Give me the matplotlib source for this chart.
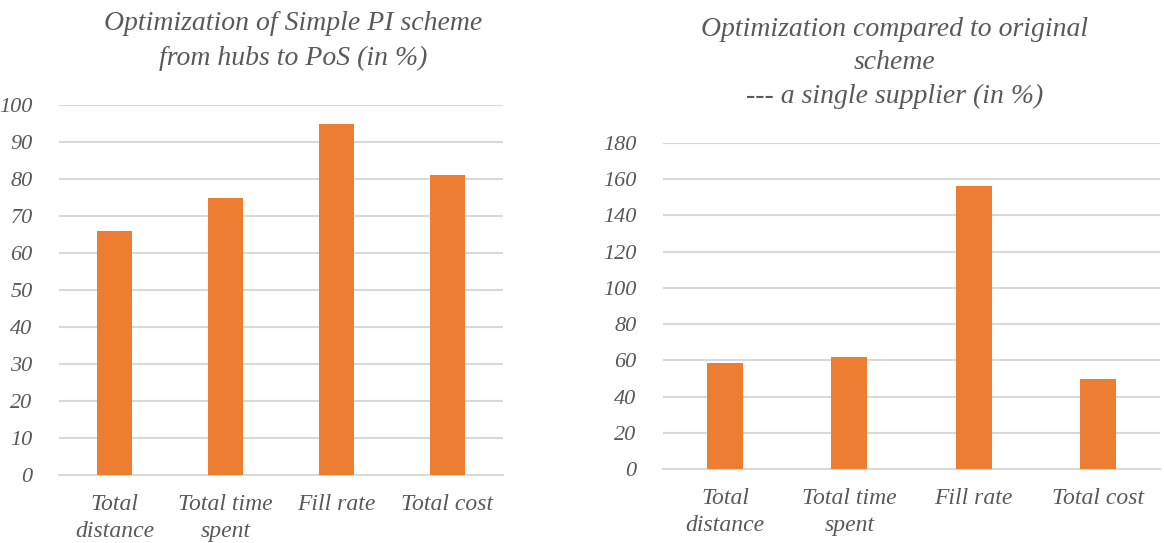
import matplotlib
matplotlib.use("Agg")
import matplotlib.pyplot as plt
import numpy as np

categories = ["Total\ndistance", "Total time\nspent", "Fill rate", "Total cost"]
left_values = [66, 75, 95, 81]
right_values = [58.3, 61.6, 156, 49.5]
left_title = "Optimization of Simple PI scheme\nfrom hubs to PoS (in %)"
right_title = "Optimization compared to original\nscheme\n--- a single supplier (in %)"
left_ticks = list(range(0, 101, 10))
right_ticks = list(range(0, 181, 20))

BAR = "#ED7D31"
GRID = "#D9D9D9"
TXT = "#595959"
FAM = ["Liberation Serif", "DejaVu Serif"]

plt.rcParams["font.family"] = FAM
plt.rcParams["font.style"] = "italic"

fig = plt.figure(figsize=(11.64, 5.43), dpi=100)

ax1 = fig.add_axes([59/1164, 68/543, 444/1164, 370/543])
ax2 = fig.add_axes([663/1164, 74/543, 497/1164, 326/543])

def style(ax, values, ticks, width):
    x = np.arange(len(categories))
    ax.bar(x, values, width=width, color=BAR, zorder=3)
    ax.set_xlim(-0.5, len(categories) - 0.5)
    ax.set_ylim(ticks[0], ticks[-1])
    ax.set_yticks(ticks)
    ax.set_yticklabels([str(t) for t in ticks], fontsize=16, color=TXT,
                       style="italic", family=FAM)
    ax.set_xticks(x)
    ax.set_xticklabels(categories, fontsize=17, color=TXT, style="italic",
                       family=FAM, linespacing=1.36)
    ax.tick_params(axis="both", length=0)
    ax.tick_params(axis="y", pad=19)
    ax.tick_params(axis="x", pad=14)
    for s in ["top", "right", "left"]:
        ax.spines[s].set_visible(False)
    ax.spines["bottom"].set_color(GRID)
    ax.spines["bottom"].set_linewidth(1.5)
    ax.yaxis.grid(True, color=GRID, linewidth=1.5, zorder=0)
    ax.set_axisbelow(True)

style(ax1, left_values, left_ticks, 0.315)
style(ax2, right_values, right_ticks, 0.29)

fig.text(293/1164, 1 - 41/543, left_title, ha="center", va="center",
         fontsize=20, color=TXT, style="italic", family=FAM, linespacing=1.5)
fig.text(895/1164, 1 - 63/543, right_title, ha="center", va="center",
         fontsize=20, color=TXT, style="italic", family=FAM, linespacing=1.46)

fig.savefig("out.png", dpi=100, facecolor="white")
